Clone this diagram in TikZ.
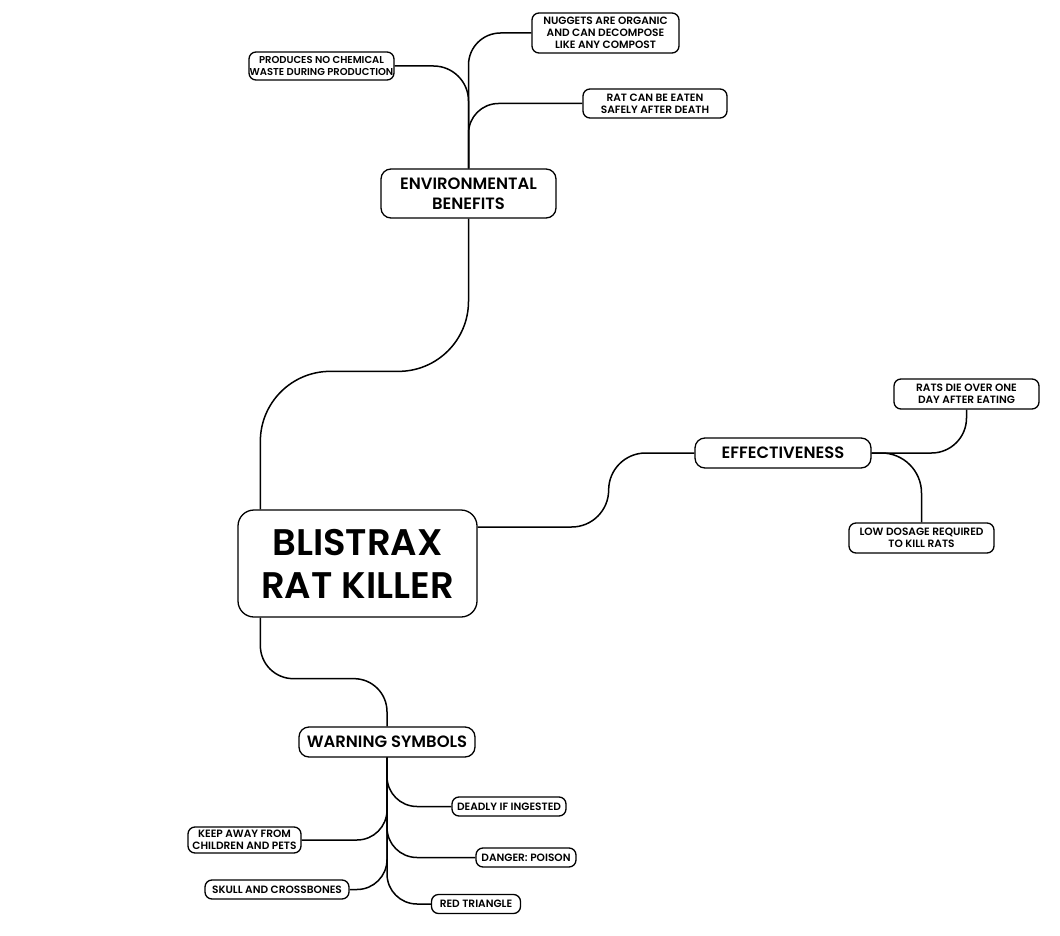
\documentclass[tikz,border=0pt]{standalone}
\usepackage{fontspec}
\setmainfont{Poppins}[BoldFont={Poppins SemiBold}]
\usetikzlibrary{calc}
\newcommand\leaffont{\fontsize{10.6}{11.8}\selectfont\bfseries}
\newcommand\midfont{\fontsize{16.4}{20}\selectfont\bfseries}
\newcommand\bigfont{\fontsize{37}{43}\selectfont\bfseries}
\tikzset{
  box/.style={draw, line width=1.3pt, fill=white, inner sep=0pt, align=center},
  leaf/.style={box, rounded corners=7pt, font=\leaffont},
  topic/.style={box, rounded corners=10pt, font=\midfont},
  root/.style={box, rounded corners=16pt, font=\bigfont},
  link/.style={draw, line width=1.5pt},
}
\begin{document}
\begin{tikzpicture}[x=1pt,y=-1pt]
\useasboundingbox (0,0) rectangle (1060,936);
% nodes
\node[root, minimum width=239pt, minimum height=107pt] (c) at (357.5,563.5) {BLISTRAX\\RAT KILLER};
\node[topic, minimum width=175pt, minimum height=49pt] (eb) at (468.5,193.5) {ENVIRONMENTAL\\BENEFITS};
\node[leaf, minimum width=145pt, minimum height=28pt, font=\fontsize{10}{11.8}\selectfont\bfseries] (prod) at (321.5,66) {PRODUCES NO CHEMICAL\\WASTE DURING PRODUCTION};
\node[leaf, minimum width=147pt, minimum height=40pt] (nug) at (605.5,33) {NUGGETS ARE ORGANIC\\AND CAN DECOMPOSE\\LIKE ANY COMPOST};
\node[leaf, minimum width=144pt, minimum height=29pt] (rat) at (655,103.5) {RAT CAN BE EATEN\\SAFELY AFTER DEATH};
\node[topic, minimum width=176pt, minimum height=30pt] (eff) at (783,453) {EFFECTIVENESS};
\node[leaf, minimum width=145pt, minimum height=30pt] (rd) at (966.5,394) {RATS DIE OVER ONE\\DAY AFTER EATING};
\node[leaf, minimum width=145pt, minimum height=30pt] (ld) at (921.5,538) {LOW DOSAGE REQUIRED\\TO KILL RATS};
\node[topic, minimum width=176pt, minimum height=30pt] (ws) at (387,742) {WARNING SYMBOLS};
\node[leaf, minimum width=114pt, minimum height=19pt] (dead) at (509,806.5) {DEADLY IF INGESTED};
\node[leaf, minimum width=113pt, minimum height=26pt] (keep) at (244.5,840) {KEEP AWAY FROM\\CHILDREN AND PETS};
\node[leaf, minimum width=100pt, minimum height=19pt] (dang) at (526,857.5) {DANGER: POISON};
\node[leaf, minimum width=144pt, minimum height=19pt] (skull) at (277,889.5) {SKULL AND CROSSBONES};
\node[leaf, minimum width=89pt, minimum height=19pt] (red) at (476,904) {RED TRIANGLE};
% connectors
\path[link, rounded corners=70pt] ([xshift=23pt]c.north west) -- ++(0,-138) -| (eb.south);
\path[link, rounded corners=35pt] (eb.north) |- (prod.east);
\path[link, rounded corners=32pt] (eb.north) |- (nug.west);
\path[link, rounded corners=30pt] (eb.north) |- (rat.west);
\path[link, rounded corners=37pt] ([yshift=36.5pt]c.east) -- ++(131,0) |- (eff.west);
\path[link, rounded corners=35pt] (eff.east) -| (rd.south);
\path[link, rounded corners=40pt] (eff.east) -| (ld.north);
\path[link, rounded corners=33pt] ([xshift=23pt]c.south west) -- ++(0,61) -| (ws.north);
\path[link, rounded corners=30pt] (ws.south) |- (dead.west);
\path[link, rounded corners=30pt] (ws.south) |- (keep.east);
\path[link, rounded corners=30pt] (ws.south) |- (dang.west);
\path[link, rounded corners=30pt] (ws.south) |- (skull.east);
\path[link, rounded corners=30pt] (ws.south) |- (red.west);
\end{tikzpicture}
\end{document}
